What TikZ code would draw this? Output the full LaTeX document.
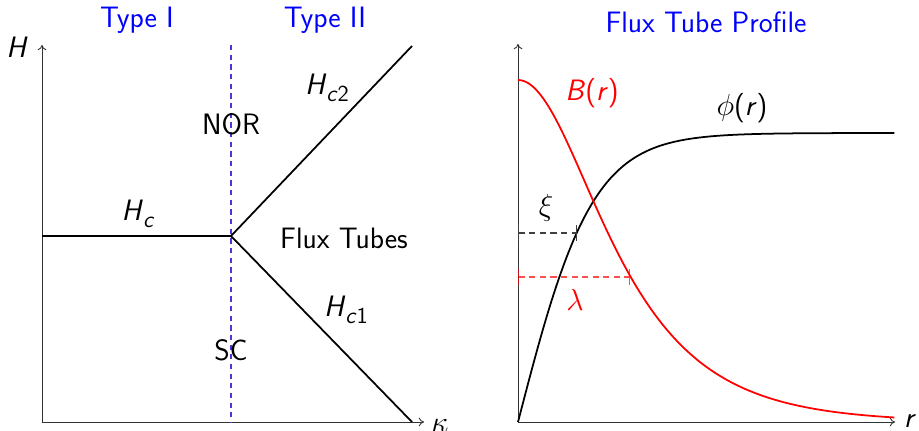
\documentclass[tikz,border=0pt]{standalone}
\usepackage{amsmath}
\usepackage{fontspec}
\usetikzlibrary{arrows.meta}
\newcommand{\subsc}[1]{\raisebox{-0.55ex}{\fontsize{13}{15}\selectfont #1}}
\tikzset{
  axis/.style={draw=black!80, line width=0.5pt, -{To[length=3pt,width=5pt]}},
  phase/.style={draw=black, line width=1pt},
  divider/.style={draw={rgb,255:red,75;green,55;blue,215}, line width=0.7pt, dash pattern=on 3pt off 2.5pt},
  curve/.style={line width=1pt},
  lab/.style={inner sep=1pt},
  title/.style={text=blue, inner sep=1pt},
  ruler/.style={line width=0.6pt, dash pattern=on 3.5pt off 2.5pt, {Bar[width=9pt]}-{Bar[width=9pt]}}
}
\begin{document}
\begin{tikzpicture}[x=0.02cm,y=-0.02cm,font=\sffamily\fontsize{16.8}{19}\selectfont]
\useasboundingbox (0,0) rectangle (919,431);
% ---------- left phase diagram ----------
\coordinate (o1) at (42,422);
\coordinate (y1) at (42,45);
\coordinate (x1) at (424,422);
\coordinate (tp) at (231,236);
\coordinate (hc0) at (42,236);
\coordinate (c2end) at (412,46);
\coordinate (c1end) at (412,422);
\coordinate (dtop) at (231,45);
\coordinate (dbot) at (231,422);
\draw[axis] (o1) -- (y1);
\draw[axis] (o1) -- (x1);
\draw[divider] (dtop) -- (dbot);
\draw[phase] (hc0) -- (tp) -- (c2end);
\draw[phase] (tp) -- (c1end);
\node[lab] (Hax) at (17,47) {\textit{H}};
\node[lab] (kap) at (440,426) {$\kappa$};
\node[title] (t1) at (137,20) {Type I};
\node[title] (t2) at (325,20) {Type II};
\node[lab] (hc) at (138,214) {\textit{H}\subsc{\textit{c}}};
\node[lab] (hc2) at (327,88) {\textit{H}\subsc{\textit{c}2}};
\node[lab] (hc1) at (346,310) {\textit{H}\subsc{\textit{c}1}};
\node[lab] (nor) at (231,124) {NOR};
\node[lab] (sc) at (231,350) {SC};
\node[lab] (ft) at (344,238) {Flux Tubes};
% ---------- right profile ----------
\coordinate (o2) at (518,422);
\coordinate (y2) at (518,44);
\coordinate (x2) at (895,422);
\draw[axis] (o2) -- (y2);
\draw[axis] (o2) -- (x2);
\node[title] (t3) at (706,22) {Flux Tube Profile};
\node[lab] (rax) at (910,421) {\textit{r}};
\draw[curve, black] plot[domain=0:5.02, samples=150] ({518+75*\x},{422-289*tanh(\x)});
\draw[curve, red] plot[domain=0:5.02, samples=150] ({518+75*\x},{422-342/cosh(\x)});
\coordinate (xi0) at (518,233);
\coordinate (xi1) at (577,233);
\coordinate (la0) at (518,277);
\coordinate (la1) at (630,277);
\draw[ruler, draw=black!75] (xi0) -- (xi1);
\draw[ruler, draw=red, draw opacity=0.7] (la0) -- (la1);
\node[lab] (xil) at (546,208) {$\xi$};
\node[lab, text=red] (lal) at (575,300) {$\lambda$};
\node[lab, text=red] (bl) at (592,93) {\textit{B}(\textit{r})};
\node[lab] (phil) at (742,108) {$\phi$(\textit{r})};
\end{tikzpicture}
\end{document}
